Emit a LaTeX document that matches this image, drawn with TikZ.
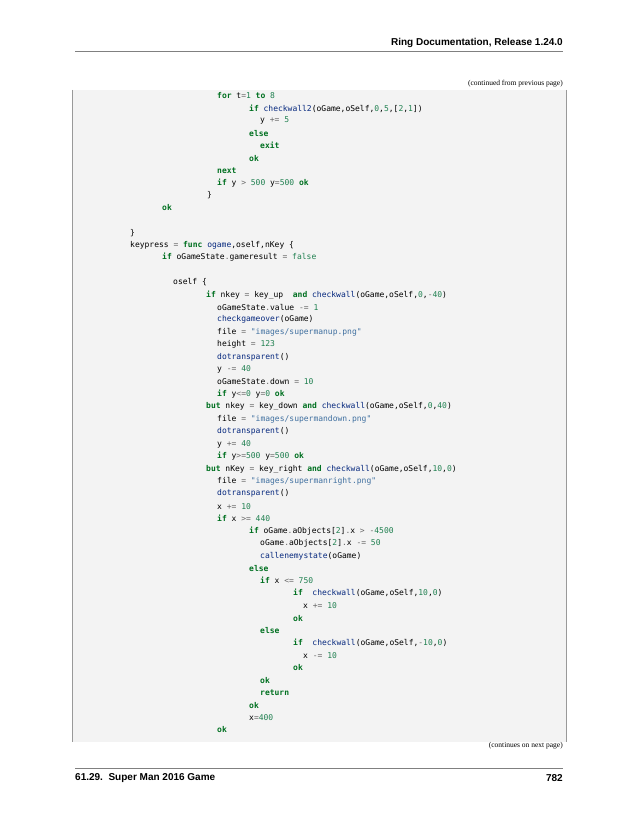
\documentclass[tikz,border=0pt]{standalone}
\usepackage{fontspec}
\setmainfont{Liberation Serif}
\newfontfamily\hsans{Liberation Sans}
\newfontfamily\cmono{DejaVu Sans Mono}
\definecolor{kwc}{HTML}{007020}
\definecolor{nmc}{HTML}{208050}
\definecolor{stc}{HTML}{4070A0}
\definecolor{fnc}{HTML}{06287E}
\definecolor{opc}{HTML}{666666}
\definecolor{boxbg}{HTML}{F3F3F3}
\newcommand\kw[1]{\textcolor{kwc}{\bfseries #1}}
\newcommand\nm[1]{\textcolor{nmc}{#1}}
\newcommand\st[1]{\textcolor{stc}{#1}}
\newcommand\fn[1]{\textcolor{fnc}{#1}}
\newcommand\op[1]{\textcolor{opc}{#1}}
\tikzset{code/.style={anchor=west,inner sep=0pt,font=\cmono\fontsize{8}{10}\selectfont,text=black},
 hdr/.style={inner sep=0pt,font=\hsans\bfseries\fontsize{10}{12}\selectfont},
 note/.style={inner sep=0pt,anchor=east,font=\fontsize{7.5}{9}\selectfont}}
\newcommand\codeln[4]{\node[code] (#1) at (#2,{825-96-(#3-1)*12.43}) {#4};}
\begin{document}
\begin{tikzpicture}[x=1pt,y=1pt]
\useasboundingbox[fill=white] (0,0) rectangle (638,825);
\node[hdr,anchor=east] (head) at (563,825-43) {Ring Documentation, Release 1.24.0};
\draw[gray,line width=0.8pt] (75,825-51) -- (563,825-51);
\node[note] (cont) at (563,825-84) {(continued from previous page)};
\fill[boxbg] (72,825-90) rectangle (566,825-742);
\draw[gray!80,line width=0.8pt] (72,825-90) -- (72,825-742) (566,825-90) -- (566,825-742);
\codeln{l1}{217}{1}{\kw{for} t\op{=}\nm{1} \kw{to} \nm{8}}
\codeln{l2}{249}{2}{\kw{if} \fn{checkwall2}(oGame,oSelf,\nm{0},\nm{5},[\nm{2},\nm{1}])}
\codeln{l3}{260}{3}{y \op{+=} \nm{5}}
\codeln{l4}{249}{4}{\kw{else}}
\codeln{l5}{260}{5}{\kw{exit}}
\codeln{l6}{249}{6}{\kw{ok}}
\codeln{l7}{217}{7}{\kw{next}}
\codeln{l8}{217}{8}{\kw{if} y \op{>} \nm{500} y\op{=}\nm{500} \kw{ok}}
\codeln{l9}{207}{9}{\}}
\codeln{l10}{162}{10}{\kw{ok}}
\codeln{l12}{130}{12}{\}}
\codeln{l13}{130}{13}{keypress \op{=} \kw{func} \fn{ogame},oself,nKey \{}
\codeln{l14}{162}{14}{\kw{if} oGameState\op{.}gameresult \op{=} \nm{false}}
\codeln{l16}{173}{16}{oself \{}
\codeln{l17}{206}{17}{\kw{if} nkey \op{=} key\_up\ \ \kw{and} \fn{checkwall}(oGame,oSelf,\nm{0},\op{-}\nm{40})}
\codeln{l18}{217}{18}{oGameState\op{.}value \op{-=} \nm{1}}
\codeln{l19}{217}{19}{\fn{checkgameover}(oGame)}
\codeln{l20}{217}{20}{file \op{=} \st{"images/supermanup.png"}}
\codeln{l21}{217}{21}{height \op{=} \nm{123}}
\codeln{l22}{217}{22}{\fn{dotransparent}()}
\codeln{l23}{217}{23}{y \op{-=} \nm{40}}
\codeln{l24}{217}{24}{oGameState\op{.}down \op{=} \nm{10}}
\codeln{l25}{217}{25}{\kw{if} y\op{<=}\nm{0} y\op{=}\nm{0} \kw{ok}}
\codeln{l26}{206}{26}{\kw{but} nkey \op{=} key\_down \kw{and} \fn{checkwall}(oGame,oSelf,\nm{0},\nm{40})}
\codeln{l27}{217}{27}{file \op{=} \st{"images/supermandown.png"}}
\codeln{l28}{217}{28}{\fn{dotransparent}()}
\codeln{l29}{217}{29}{y \op{+=} \nm{40}}
\codeln{l30}{217}{30}{\kw{if} y\op{>=}\nm{500} y\op{=}\nm{500} \kw{ok}}
\codeln{l31}{206}{31}{\kw{but} nKey \op{=} key\_right \kw{and} \fn{checkwall}(oGame,oSelf,\nm{10},\nm{0})}
\codeln{l32}{217}{32}{file \op{=} \st{"images/supermanright.png"}}
\codeln{l33}{217}{33}{\fn{dotransparent}()}
\codeln{l34}{217}{34}{x \op{+=} \nm{10}}
\codeln{l35}{217}{35}{\kw{if} x \op{>=} \nm{440}}
\codeln{l36}{249}{36}{\kw{if} oGame\op{.}aObjects[\nm{2}]\op{.}x \op{>} \op{-}\nm{4500}}
\codeln{l37}{260}{37}{oGame\op{.}aObjects[\nm{2}]\op{.}x \op{-=} \nm{50}}
\codeln{l38}{260}{38}{\fn{callenemystate}(oGame)}
\codeln{l39}{249}{39}{\kw{else}}
\codeln{l40}{260}{40}{\kw{if} x \op{<=} \nm{750}}
\codeln{l41}{293}{41}{\kw{if}\ \ \fn{checkwall}(oGame,oSelf,\nm{10},\nm{0})}
\codeln{l42}{303}{42}{x \op{+=} \nm{10}}
\codeln{l43}{293}{43}{\kw{ok}}
\codeln{l44}{260}{44}{\kw{else}}
\codeln{l45}{293}{45}{\kw{if}\ \ \fn{checkwall}(oGame,oSelf,\op{-}\nm{10},\nm{0})}
\codeln{l46}{303}{46}{x \op{-=} \nm{10}}
\codeln{l47}{293}{47}{\kw{ok}}
\codeln{l48}{260}{48}{\kw{ok}}
\codeln{l49}{260}{49}{\kw{return}}
\codeln{l50}{249}{50}{\kw{ok}}
\codeln{l51}{249}{51}{x\op{=}\nm{400}}
\codeln{l52}{217}{52}{\kw{ok}}
\node[note] (contn) at (563,825-746) {(continues on next page)};
\draw[gray,line width=0.8pt] (75,825-768) -- (563,825-768);
\node[hdr,anchor=west] (foot) at (75,825-778) {61.29.\ \ Super Man 2016 Game};
\node[hdr,anchor=east] (page) at (563,825-778) {782};
\end{tikzpicture}
\end{document}
